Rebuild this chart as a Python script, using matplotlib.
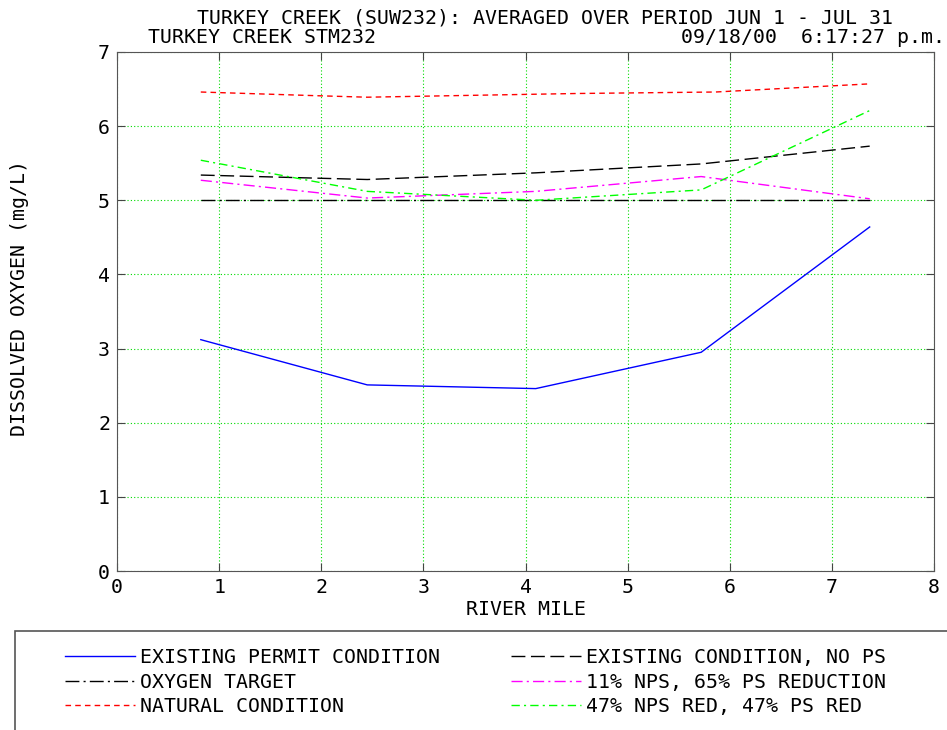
import matplotlib
matplotlib.use("Agg")
import matplotlib.pyplot as plt
from matplotlib.patches import Rectangle

# River mile stations
mile = [0.82, 2.45, 4.1, 5.72, 7.37]
permit = [3.12, 2.51, 2.46, 2.95, 4.64]
no_ps = [5.34, 5.28, 5.37, 5.49, 5.73]
target = [5.0, 5.0, 5.0, 5.0, 5.0]
nps11 = [5.27, 5.03, 5.12, 5.32, 5.02]
nps47 = [5.54, 5.12, 5.0, 5.14, 6.21]

mile_nat = [0.82, 1.96, 2.45, 3.26, 4.5, 5.86, 7.37]
natural = [6.46, 6.41, 6.39, 6.41, 6.44, 6.46, 6.57]

plt.rcParams["font.family"] = ["DejaVu Sans Mono"]
fs = 14.3

fig = plt.figure(figsize=(9.47, 7.3), dpi=100)
ax = fig.add_axes([0.1236, 0.2178, 0.8627, 0.711])

h1, = ax.plot(mile, permit, color="#0000ff", lw=1.0, label="EXISTING PERMIT CONDITION")
h4, = ax.plot(mile, no_ps, color="black", lw=1.0, dashes=(10, 4), label="EXISTING CONDITION, NO PS")
h2, = ax.plot(mile, target, color="black", lw=1.0, dashes=(10, 3, 1.5, 3), label="OXYGEN TARGET")
h5, = ax.plot(mile, nps11, color="#ff00ff", lw=1.0, dashes=(8, 3, 1.5, 3), label="11% NPS, 65% PS REDUCTION")
h3, = ax.plot(mile_nat, natural, color="#ff0000", lw=1.0, dashes=(4, 3), label="NATURAL CONDITION")
h6, = ax.plot(mile, nps47, color="#00ff00", lw=1.0, dashes=(6, 3, 1.5, 3), label="47% NPS RED, 47% PS RED")

ax.set_xlim(0, 8)
ax.set_ylim(0, 7)
ax.set_xticks(range(0, 9))
ax.set_yticks(range(0, 8))
ax.tick_params(direction="in", length=6, top=True, right=True, labelsize=fs,
               colors="#444444", labelcolor="black", pad=5)
ax.grid(True, color="#00dd00", linestyle=(0, (1, 2)), lw=0.8)
for s in ax.spines.values():
    s.set_color("#555555")
ax.set_xlabel("RIVER MILE", fontsize=fs, labelpad=2)
ax.set_ylabel("DISSOLVED OXYGEN (mg/L)", fontsize=fs)
ax.yaxis.set_label_coords(-0.108, 0.526)

fig.text(0.5755, 0.975, "TURKEY CREEK (SUW232): AVERAGED OVER PERIOD JUN 1 - JUL 31",
         ha="center", va="center", fontsize=fs)
fig.text(0.156, 0.949, "TURKEY CREEK STM232", ha="left", va="center", fontsize=fs)
fig.text(0.998, 0.949, "09/18/00  6:17:27 p.m.", ha="right", va="center", fontsize=fs)

# legend box, open past the right and bottom edges
fig.patches.append(Rectangle((15 / 947, -0.05), 1.0, 1 - 631 / 730 + 0.05,
                             transform=fig.transFigure, fill=False,
                             edgecolor="#555555", lw=1.2))
fig.legend([h1, h2, h3, h4, h5, h6],
           [h.get_label() for h in [h1, h2, h3, h4, h5, h6]],
           ncol=2, frameon=False, fontsize=fs,
           loc="upper left", bbox_to_anchor=(65 / 947, 1 - 648 / 730),
           handlelength=3.52, handletextpad=0.25, columnspacing=3.57,
           labelspacing=0.28, borderpad=0, borderaxespad=0)

fig.savefig("out.png", dpi=100)
